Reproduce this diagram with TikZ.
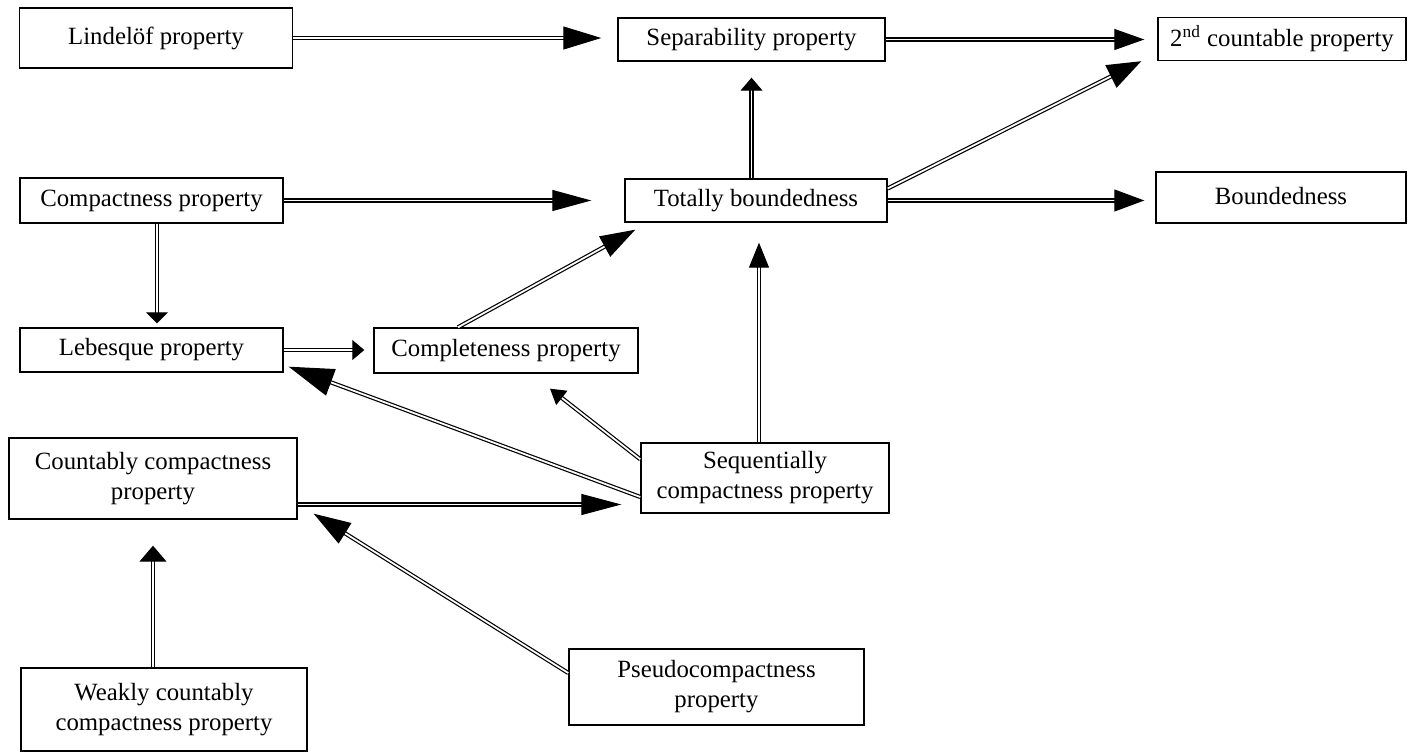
\documentclass[tikz,border=0pt]{standalone}
\usepackage{fontspec}
\setmainfont{Liberation Serif}
\usetikzlibrary{arrows.meta,calc}

\tikzset{
    prop/.style={draw, line width=0.7pt, align=center, inner sep=0pt,
        font={\fontsize{12.4}{15}\selectfont}},
    sz/.style 2 args={minimum width=#1*0.5pt, minimum height=#2*0.5pt},
    imp/.style 2 args={double, double distance=0.9pt, line width=0.6pt,
        -{Triangle[length=#1, width=#2]}},
}

\begin{document}
\begin{tikzpicture}[x=0.5pt, y=-0.5pt]
        \useasboundingbox (0,0) rectangle (1426,753);
        \node[prop, sz={273}{60}] (lind) at (156, 38)    {Lindelöf property};
        \node[prop, sz={267}{43}] (sep)  at (751.5, 39.5) {Separability property};
        \node[prop, sz={248}{43}] (snd)  at (1282, 39)   {2\textsuperscript{nd} countable property};
        \node[prop, sz={263}{45}] (cmp)  at (151.5, 200.5) {Compactness property};
        \node[prop, sz={262}{43}] (tb)   at (756, 200.5) {Totally boundedness};
        \node[prop, sz={250}{51}] (bnd)  at (1281, 197.5) {\raisebox{2pt}{Boundedness}};
        \node[prop, sz={263}{44}] (leb)  at (151.5, 350) {Lebesque property};
        \node[prop, sz={264}{45}] (cpl)  at (506, 350.5) {Completeness property};
        \node[prop, sz={288}{81}] (cnt)  at (153, 478.5) {Countably compactness\\property};
        \node[prop, sz={248}{70}] (seq)  at (765, 478)   {Sequentially\\compactness property};
        \node[prop, sz={286}{83}] (weak) at (164, 709.5) {Weakly countably\\compactness property};
        \node[prop, sz={295}{76}] (psd)  at (716.5, 687) {Pseudocompactness\\property};

        \draw[imp={19pt}{11.5pt}, shorten >=8pt]  (lind.east) -- (lind.east -| sep.west);
        \draw[imp={15pt}{10.5pt}, shorten >=6.5pt] (sep.east) -- (sep.east -| snd.west);
        \draw[imp={17pt}{12.5pt}] ([shift={(0,-12)}]tb.east) -- ([shift={(-16,0)}]snd.south west);
        \draw[imp={15pt}{11pt}, shorten >=5.5pt] (tb.east) -- (tb.east -| bnd.west);
        \draw[imp={6.5pt}{11pt}] ([shift={(-4.5,0)}]tb.north) -- ([shift={(0,16)}]sep.south);
        \draw[imp={19.5pt}{10.5pt}, shorten >=16.5pt] (cmp.east) -- (cmp.east -| tb.west);
        \draw[imp={5.5pt}{11pt}] ([shift={(5.5,0)}]cmp.south) -- ([shift={(5.5,-4)}]leb.north);
        \draw[imp={6pt}{10pt}, shorten >=4.5pt] (leb.east) -- (leb.east -| cpl.west);
        \draw[imp={17.5pt}{11.5pt}] ([shift={(-48,0)}]cpl.north) -- ([shift={(11,7)}]tb.south west);
        \draw[imp={12.5pt}{10pt}] ([shift={(-6,0)}]seq.north) -- ([shift={(3,20)}]tb.south);
        \draw[imp={7.5pt}{9pt}] ([shift={(0,17)}]seq.north west) -- ([shift={(44,15)}]cpl.south);
        \draw[imp={22.5pt}{14pt}] ([shift={(0,19)}]seq.west) -- ([shift={(5,-6)}]leb.south east);
        \draw[imp={20pt}{10.5pt}] ([shift={(0,26)}]cnt.east) -- ([shift={(-19,26.5)}]seq.west);
        \draw[imp={18.5pt}{12pt}] ([shift={(0,-14)}]psd.west) -- ([shift={(16,-6)}]cnt.south east);
        \draw[imp={8pt}{13.5pt}] ([shift={(-11,0)}]weak.north) -- ([shift={(0,26)}]cnt.south);
\end{tikzpicture}
\end{document}
